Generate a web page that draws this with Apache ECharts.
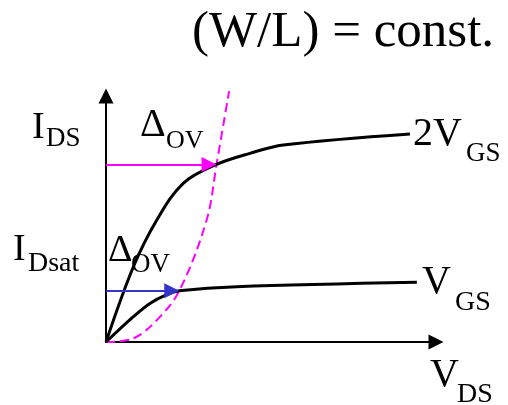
<!DOCTYPE html>
<html>
<head>
<meta charset="utf-8">
<script src="https://cdn.jsdelivr.net/npm/echarts@6/dist/echarts.min.js"></script>
<style>
  html, body { margin: 0; padding: 0; background: #ffffff; }
  #chart { width: 508px; height: 405px; }
</style>
</head>
<body>
<div id="chart"></div>
<script>
// I_DS versus V_DS for two gate drives at fixed W/L (arbitrary units)
const curveVgs2 = [[0, 0], [0.83, 3.06], [1.54, 4.96], [2.34, 6.45], [3.35, 7.22], [4.36, 7.67], [5.37, 8.01], [9.21, 8.46]];
const curveVgs1 = [[0, 0], [0.83, 1.03], [1.33, 1.57], [1.84, 1.93], [2.22, 2.08], [3.96, 2.25], [9.42, 2.43]];
// locus of saturation points (V_DS = V_OV)
const satLocus = [[0, 0], [0.83, 0.15], [1.54, 0.89], [2.22, 2.08], [3.05, 4.96], [3.35, 7.22], [3.73, 10.2]];
// overdrive arrows: [I_D level, V_OV]
const ovArrow2 = [7.22, 3.35];
const ovArrow1 = [2.08, 2.22];

const serif = '"Liberation Serif", "Times New Roman", serif';
const black = '#000000';
const magenta = '#ff00ff';
const blue = '#3434c8';

function txt(s, x, y, size) {
  return {
    type: 'text', x: x, y: y, silent: true,
    style: { text: s, font: size + 'px ' + serif, fill: black, align: 'left', verticalAlign: 'middle' }
  };
}

// arrow tip lands on the curve: line stops half a head short
const headLen = 15;
const chart = echarts.init(document.getElementById('chart'));
const grid = { left: 106, top: 96, width: 330, height: 246 };
const xUnitPx = grid.width / 10;

function arrow(level, vov, color) {
  return {
    type: 'line', data: [], silent: true,
    markLine: {
      silent: true, animation: false,
      symbol: ['none', 'triangle'], symbolSize: [15, headLen],
      label: { show: false },
      lineStyle: { color: color, width: 2, type: 'solid' },
      emphasis: { disabled: true },
      data: [[{ coord: [0, level] }, { coord: [vov - headLen / 2 / xUnitPx, level] }]]
    }
  };
}

chart.setOption({
  animation: false,
  backgroundColor: '#ffffff',
  grid: grid,
  xAxis: {
    type: 'value', min: 0, max: 10,
    axisLine: { show: true, onZero: false, symbol: ['none', 'triangle'], symbolSize: [15, 15], lineStyle: { color: black, width: 2 } },
    axisTick: { show: false }, axisLabel: { show: false }, splitLine: { show: false }
  },
  yAxis: {
    type: 'value', min: 0, max: 10,
    axisLine: { show: true, onZero: false, symbol: ['none', 'triangle'], symbolSize: [15, 15], lineStyle: { color: black, width: 2 } },
    axisTick: { show: false }, axisLabel: { show: false }, splitLine: { show: false }
  },
  series: [
    {
      type: 'line', data: satLocus, smooth: 0.35, showSymbol: false, clip: false, silent: true,
      lineStyle: { color: magenta, width: 2, type: [9, 5] }, z: 1
    },
    {
      type: 'line', data: curveVgs2, smooth: 0.35, showSymbol: false, silent: true,
      lineStyle: { color: black, width: 3 }, z: 3
    },
    {
      type: 'line', data: curveVgs1, smooth: 0.35, showSymbol: false, silent: true,
      lineStyle: { color: black, width: 3 }, z: 3
    },
    arrow(ovArrow2[0], ovArrow2[1], magenta),
    arrow(ovArrow1[0], ovArrow1[1], blue)
  ],
  graphic: [
    txt('(W/L) = const.', 192, 33, 51),
    txt('I', 32, 128, 38), txt('DS', 46, 139, 27),
    txt('\u0394', 140, 125, 40), txt('OV', 166, 141, 26),
    txt('2V', 413, 134, 40), txt('GS', 466, 154, 27),
    txt('I', 13, 250, 38), txt('Dsat', 28, 264, 28),
    txt('\u0394', 108, 251, 38), txt('OV', 131, 265, 27),
    txt('V', 422, 282, 40), txt('GS', 455, 303, 28),
    txt('V', 430, 375, 40), txt('DS', 457, 395, 28)
  ]
});
</script>
</body>
</html>
